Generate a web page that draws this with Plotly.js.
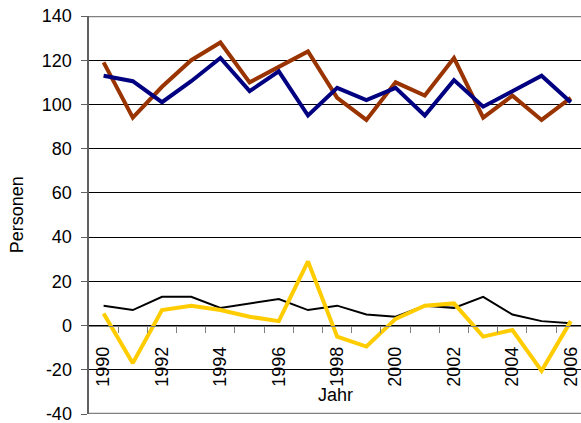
<!DOCTYPE html>
<html><head><meta charset="utf-8">
<script src="https://cdn.plot.ly/plotly-3.0.1.min.js"></script>
<style>html,body{margin:0;padding:0;background:#fff}</style>
</head><body>
<div id="chart" style="width:581px;height:423px"></div>
<script>
var years = [1990,1991,1992,1993,1994,1995,1996,1997,1998,1999,2000,2001,2002,2003,2004,2005,2006];
var seriesRed = [119,94,108,120,128,110,117,124,103,93,110,104,121,94,104,93,103];
var seriesBlue = [113,110.5,101,110.5,121,106,115,95,107.5,102,107.5,95,111,99,106,113,101];
var seriesBlack = [9,7,13,13,8,10,12,7,9,5,4,9,8,13,5,2,1];
var seriesYellow = [5.5,-17,7,9,7,4,2,29,-5,-9.5,3,9,10,-5,-2,-20.5,2];
var labelYears = [1990,1992,1994,1996,1998,2000,2002,2004,2006];
var boundaryTicks = [1990.5,1991.5,1992.5,1993.5,1994.5,1995.5,1996.5,1997.5,1998.5,1999.5,2000.5,2001.5,2002.5,2003.5,2004.5,2005.5];
var yTicks = [-40,-20,0,20,40,60,80,100,120,140];
var yTickLabels = ['-40','-20','0','20','40','60','80','100','120','140'];

var font = {family: 'Liberation Sans, Arial, sans-serif', size: 18, color: '#000'};
var zeroPos = 40/180;

var traces = [
  {x: years, y: seriesBlack, mode: 'lines', line: {color: '#000000', width: 2}},
  {x: years, y: seriesYellow, mode: 'lines', line: {color: '#FFCC00', width: 4}},
  {x: years, y: seriesRed, mode: 'lines', line: {color: '#993300', width: 4}},
  {x: years, y: seriesBlue, mode: 'lines', line: {color: '#000080', width: 4}},
  {x: [years[0]], y: [null], xaxis: 'x2', mode: 'lines', hoverinfo: 'skip'}
];

var layout = {
  width: 581, height: 423,
  margin: {l: 89, r: 0, t: 16, b: 9, pad: 0},
  paper_bgcolor: '#fff', plot_bgcolor: '#fff',
  showlegend: false,
  font: font,
  xaxis: {
    type: 'linear', range: [1989.5, 2006.35],
    anchor: 'free', position: zeroPos,
    tickvals: boundaryTicks, showticklabels: false,
    ticks: 'outside', ticklen: 6, tickcolor: '#808080', tickwidth: 1,
    showline: true, linecolor: '#808080', linewidth: 1.5,
    showgrid: false, zeroline: false, fixedrange: true
  },
  xaxis2: {
    type: 'linear', range: [1989.5, 2006.35], overlaying: 'x',
    anchor: 'free', position: zeroPos,
    tickvals: labelYears, ticktext: labelYears.map(String),
    tickangle: -90, ticks: 'outside', ticklen: 13, tickcolor: 'rgba(0,0,0,0)',
    tickfont: font, showline: false, showgrid: false, zeroline: false
  },
  yaxis: {
    range: [-40, 140], tickvals: yTicks, ticktext: yTickLabels,
    ticks: 'outside', ticklen: 6, tickcolor: '#606060', tickwidth: 1,
    ticklabelstandoff: 5, ticklabeloverflow: 'allow',
    showline: true, linecolor: '#606060', linewidth: 2.5,
    showgrid: true, gridcolor: '#000', gridwidth: 1, zeroline: false,
    tickfont: font
  },
  shapes: [
    {type: 'line', xref: 'paper', yref: 'y', x0: 0, x1: 1, y0: 140, y1: 140, line: {color: '#808080', width: 2.5}},
    {type: 'line', xref: 'paper', yref: 'y', x0: 0, x1: 1, y0: -40, y1: -40, line: {color: '#808080', width: 2.5}}
  ],
  annotations: [
    {text: 'Jahr', xref: 'paper', yref: 'paper', x: 0.5, y: 0.048, xanchor: 'center', yanchor: 'middle', showarrow: false, font: font},
    {text: 'Personen', xref: 'paper', yref: 'paper', x: -0.146, y: 0.5, xanchor: 'center', yanchor: 'middle', textangle: -90, showarrow: false, font: font}
  ]
};

Plotly.newPlot('chart', traces, layout, {displayModeBar: false, staticPlot: true});
</script>
</body></html>
